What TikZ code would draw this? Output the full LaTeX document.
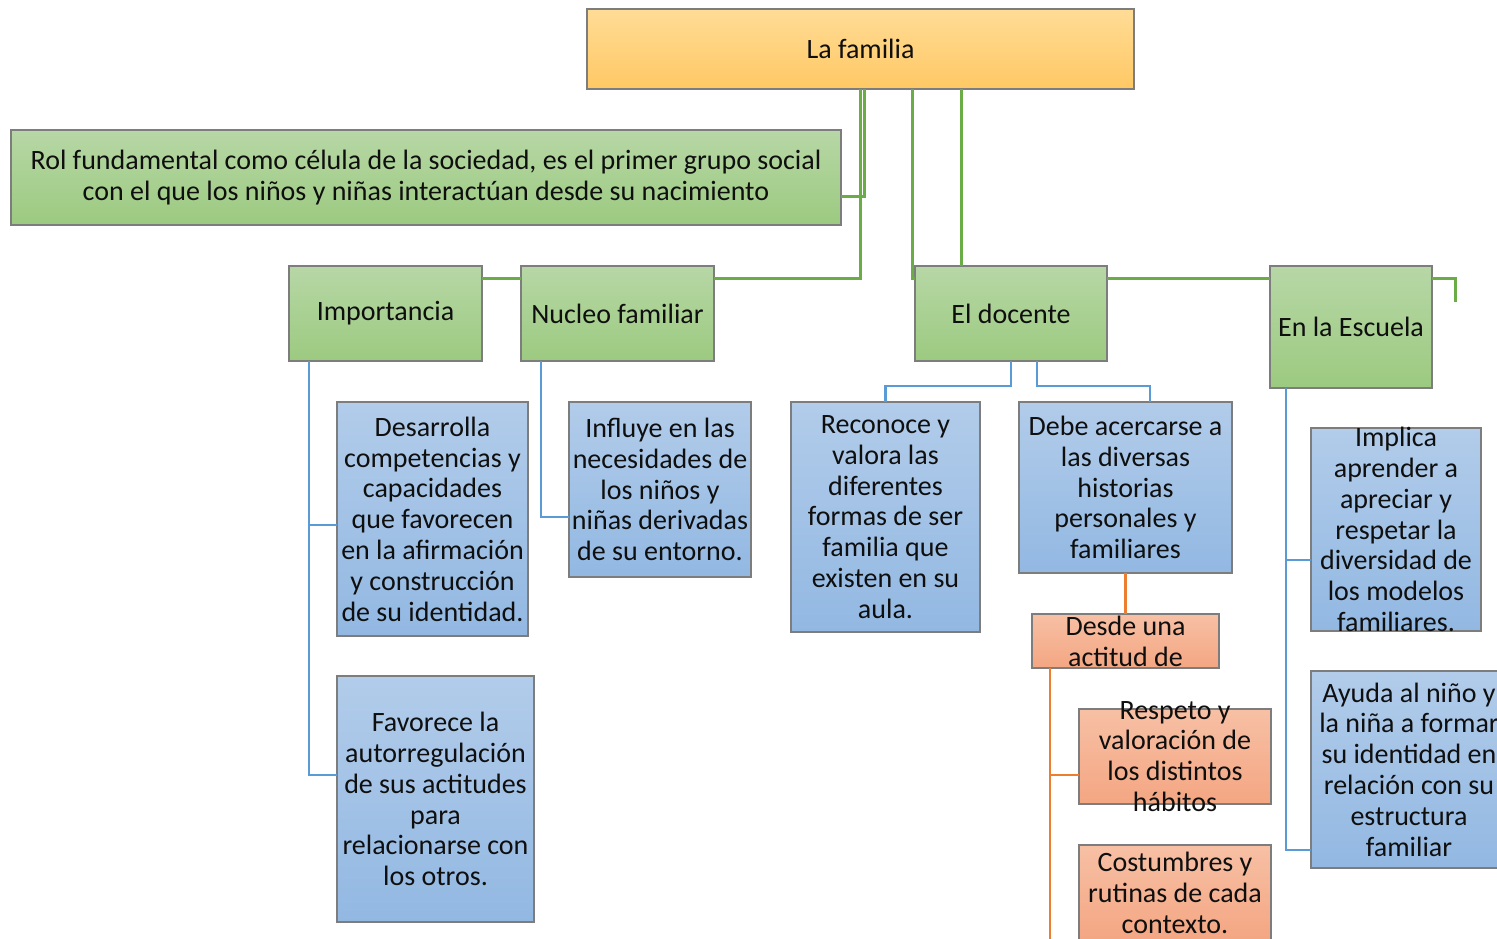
\documentclass[tikz,border=0pt]{standalone}
\usepackage{fontspec}
\setmainfont{Carlito}
\begin{document}
\begin{tikzpicture}[x=1pt,y=-1pt,
  boxbase/.style={rectangle,inner sep=0pt,outer sep=0pt,draw={rgb,255:red,125;green,125;blue,125},line width=1.2pt},
  gbox/.style={boxbase,top color={rgb,255:red,183;green,215;blue,166},bottom color={rgb,255:red,156;green,202;blue,128}},
  ybox/.style={boxbase,top color={rgb,255:red,255;green,220;blue,150},bottom color={rgb,255:red,255;green,200;blue,100}},
  bbox/.style={boxbase,top color={rgb,255:red,178;green,204;blue,234},bottom color={rgb,255:red,146;green,184;blue,226}},
  obox/.style={boxbase,top color={rgb,255:red,247;green,192;blue,165},bottom color={rgb,255:red,244;green,166;blue,130}},
  txt/.style={inner sep=0pt,align=center,text={rgb,255:red,15;green,15;blue,15},font=\fontsize{28}{30.8}\selectfont},
  gl/.style={draw={rgb,255:red,106;green,172;blue,70},line width=3pt},
  bl/.style={draw={rgb,255:red,91;green,155;blue,213},line width=2.8pt},
  ol/.style={draw={rgb,255:red,237;green,125;blue,49},line width=2.8pt}]
\useasboundingbox (0,0) rectangle (1497,939);
\clip (0,0) rectangle (1497,939);
\newcommand\bx[7]{%
  \pgfmathsetmacro\boxww{#5-#3}\pgfmathsetmacro\boxhh{#6-#4}%
  \node[#2,minimum width=\boxww pt,minimum height=\boxhh pt] (#1) at ({(#3+#5)/2},{(#4+#6)/2}) {};%
  \node[txt] (#1-t) at (#1.center) {#7};}
\bx{fam}{ybox}{587}{9}{1134}{89}{La familia}
\bx{rol}{gbox}{11}{130}{841}{225}{Rol fundamental como célula de la sociedad, es el primer grupo social\\con el que los niños y niñas interactúan desde su nacimiento}
\bx{imp}{gbox}{289}{266}{482}{361}{Importancia}
\bx{nuc}{gbox}{521}{266}{714}{361}{Nucleo familiar}
\bx{doc}{gbox}{915}{266}{1107}{361}{El docente}
\bx{esc}{gbox}{1270}{266}{1432}{388}{En la Escuela}
\bx{des}{bbox}{337}{402}{528}{636}{Desarrolla\\competencias y\\capacidades\\que favorecen\\en la afirmación\\y construcción\\de su identidad.}
\bx{fav}{bbox}{337}{676}{534}{922}{Favorece la\\autorregulación\\de sus actitudes\\para\\relacionarse con\\los otros.}
\bx{inf}{bbox}{569}{402}{751}{577}{Influye en las\\necesidades de\\los niños y\\niñas derivadas\\de su entorno.}
\bx{rec}{bbox}{791}{402}{980}{632}{Reconoce y\\valora las\\diferentes\\formas de ser\\familia que\\existen en su\\aula.}
\bx{deb}{bbox}{1019}{402}{1232}{573}{Debe acercarse a\\las diversas\\historias\\personales y\\familiares}
\bx{impl}{bbox}{1311}{428}{1481}{631}{Implica\\aprender a\\apreciar y\\respetar la\\diversidad de\\los modelos\\familiares.}
\bx{ayu}{bbox}{1311}{671}{1507}{868}{Ayuda al niño y\\la niña a formar\\su identidad en\\relación con su\\estructura\\familiar}
\bx{dsd}{obox}{1032}{614}{1219}{668}{Desde una\\actitud de}
\bx{res}{obox}{1079}{709}{1271}{804}{Respeto y\\valoración de\\los distintos\\hábitos}
\bx{cos}{obox}{1079}{845}{1271}{941}{Costumbres y\\rutinas de cada\\contexto.}
% green connectors
\draw[gl] (864,0 |- fam.south) |- (rol.east |- 0,196);
\draw[gl] (860,0 |- fam.south) |- (nuc.east |- 0,278);
\draw[gl] (nuc.west |- 0,278) -- (imp.east |- 0,278);
\draw[gl] (912,0 |- fam.south) |- (doc.west |- 0,278);
\draw[gl] (961,0 |- fam.south) -- (961,0 |- doc.north);
\draw[gl] (doc.east |- 0,278) -- (esc.west |- 0,278);
\coordinate (stub) at (1455,302);
\draw[gl] (esc.east |- 0,278) -| (stub);
% blue connectors
\draw[bl] (309,0 |- imp.south) |- (des.west |- 0,525);
\draw[bl] (309,0 |- imp.south) |- (fav.west |- 0,775);
\draw[bl] (541,0 |- nuc.south) |- (inf.west |- 0,517);
\draw[bl] (1011,0 |- doc.south) -- (1011,386) -| (rec.north);
\draw[bl] (1037,0 |- doc.south) -- (1037,386) -| (1150,0 |- deb.north);
\draw[bl] (1286,0 |- esc.south) |- (impl.west |- 0,560);
\draw[bl] (1286,0 |- esc.south) |- (ayu.west |- 0,850);
% orange connectors
\draw[ol] (deb.south) -- (dsd.north);
\draw[ol] (1050,0 |- dsd.south) |- (res.west |- 0,775);
\coordinate (obot) at (1050,945);
\draw[ol] (1050,0 |- dsd.south) -- (obot);
\end{tikzpicture}
\end{document}
